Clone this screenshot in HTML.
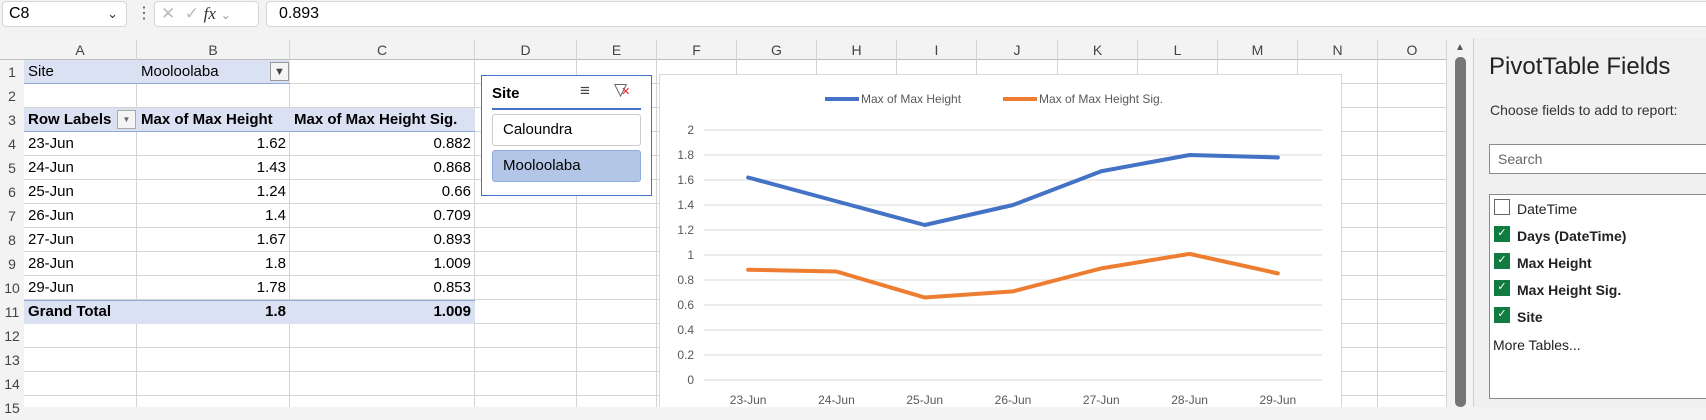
<!DOCTYPE html>
<html><head><meta charset="utf-8">
<style>
*{box-sizing:border-box;margin:0;padding:0}
body{width:1706px;height:407px;overflow:hidden;background:#f3f3f3;font-family:"Liberation Sans",sans-serif;position:relative;color:#000}
.a{position:absolute}
.box{position:absolute;background:#fff;border:1px solid #d6d6d6;border-radius:4px}
.hdr{position:absolute;top:40px;height:20px;font-size:14px;color:#444;text-align:center;line-height:20px;border-right:1px solid #d4d4d4}
.rh{position:absolute;left:0;width:24px;font-size:14px;color:#444;text-align:center;line-height:24px;height:24px}
.cell{position:absolute;height:24px;line-height:24px;font-size:15px;white-space:nowrap;overflow:hidden}
.r{text-align:right;padding-right:4px}
.b{font-weight:bold}
.fi{position:absolute;left:1500px;font-size:14px;color:#222}
.cb{position:absolute;left:1494px;width:16px;height:16px;background:#107c41;color:#fff;font-size:11px;text-align:center;line-height:15px}
</style></head><body>
<!-- formula bar -->
<div class="a" style="left:0;top:0;width:1706px;height:38px;background:#f3f3f3"></div>
<div class="box" style="left:2px;top:1px;width:125px;height:26px;font-size:16px;line-height:24px;padding-left:6px">C8<span class="a" style="right:8px;top:0;font-size:13px;color:#333">&#8964;</span></div>
<div class="a" style="left:136px;top:3px;font-size:16px;color:#555">&#8942;</div>
<div class="box" style="left:154px;top:1px;width:105px;height:26px;font-size:17px;line-height:24px;color:#bbb;padding-left:6px">&#10005;&nbsp; &#10003; <i style="color:#333;font-family:'Liberation Serif',serif">fx</i> <span style="font-size:12px;color:#999">&#8964;</span></div>
<div class="box" style="left:266px;top:1px;width:1450px;height:26px;font-size:16px;line-height:24px;padding-left:12px">0.893</div>

<!-- sheet -->
<div class="a" style="left:24px;top:60px;width:1423px;height:347px;background:#fff;
background-image:repeating-linear-gradient(to bottom,transparent 0 23px,#d4d4d4 23px 24px)"></div>
<div class="a" style="left:0;top:40px;width:1447px;height:20px;background:#f3f3f3;border-bottom:1px solid #bdbdbd"></div>
<div id="cols"></div>
<div id="rows"></div>

<!-- pivot table -->
<div class="a" style="left:24px;top:60px;width:266px;height:24px;background:#d9e1f2;border-bottom:1px solid #8ea9db"></div>
<div class="cell" style="left:28px;top:60px">Site</div>
<div class="cell" style="left:141px;top:60px">Mooloolaba</div>
<div class="a" style="left:270px;top:62px;width:19px;height:19px;border:1px solid #999;background:#f4f4f4;font-size:11px;text-align:center;line-height:18px;color:#444">&#9660;</div>
<div class="a" style="left:24px;top:108px;width:451px;height:24px;background:#d9e1f2;border-bottom:1px solid #8ea9db"></div>
<div class="cell b" style="left:28px;top:108px">Row Labels</div>
<div class="a" style="left:117px;top:110px;width:19px;height:19px;border:1px solid #aaa;background:#f4f4f4;font-size:8px;text-align:center;line-height:18px;color:#666">&#9660;</div>
<div class="cell b" style="left:141px;top:108px">Max of Max Height</div>
<div class="cell b" style="left:294px;top:108px">Max of Max Height Sig.</div>
<div class="a" style="left:24px;top:300px;width:451px;height:24px;background:#d9e1f2;border-top:1px solid #8ea9db"></div>
<div id="tbl"></div>

<!-- slicer -->
<div class="a" style="left:481px;top:75px;width:171px;height:121px;background:#fff;border:1px solid #4472c4">
 <div class="a b" style="left:10px;top:9px;font-size:15px">Site</div>
 <div class="a" style="left:98px;top:5px;font-size:17px;color:#444">&#8801;</div>
 <div class="a" style="left:132px;top:4px;font-size:17px;color:#555">&#9661;<span style="color:#e23;font-size:11px;margin-left:-6px">&#10005;</span></div>
 <div class="a" style="left:10px;top:32px;width:149px;height:2px;background:#4472c4"></div>
 <div class="a" style="left:10px;top:38px;width:149px;height:32px;border:1px solid #ccc;border-radius:3px;font-size:15px;line-height:30px;padding-left:10px">Caloundra</div>
 <div class="a" style="left:10px;top:74px;width:149px;height:32px;border:1px solid #8faadc;background:#b4c6e7;border-radius:3px;font-size:15px;line-height:30px;padding-left:10px">Mooloolaba</div>
</div>

<!-- chart -->
<svg class="a" id="chart" style="left:659px;top:74px" width="683" height="333">
 <rect x="0.5" y="0.5" width="682" height="340" fill="#fff" stroke="#d9d9d9"/>
</svg>

<!-- scrollbar -->
<div class="a" style="left:1449px;top:38px;width:22px;height:369px;background:#f3f3f3"></div>
<div class="a" style="left:1455px;top:42px;font-size:10px;color:#555">&#9650;</div>
<div class="a" style="left:1455px;top:57px;width:11px;height:350px;background:#767676;border-radius:5px"></div>
<div class="a" style="left:1473px;top:38px;width:1px;height:369px;background:#d0d0d0"></div>

<!-- pivot fields panel -->
<div class="a" style="left:1474px;top:38px;width:232px;height:369px;background:#f0f0f0"></div>
<div class="a" style="left:1489px;top:53px;font-size:24px;color:#222">PivotTable Fields</div>
<div class="a" style="left:1490px;top:102px;font-size:14px;color:#333">Choose fields to add to report:</div>
<div class="a" style="left:1489px;top:144px;width:230px;height:30px;background:#fff;border:1px solid #8a8a8a;font-size:14px;color:#666;line-height:28px;padding-left:8px">Search</div>
<div class="a" style="left:1489px;top:194px;width:230px;height:205px;background:#fff;border:1px solid #8a8a8a"></div>
<div class="a" style="left:1494px;top:199px;width:16px;height:16px;border:1px solid #666;background:#fff"></div>
<div class="fi" style="left:1517px;top:201px">DateTime</div>
<div class="cb" style="top:226px">&#10003;</div>
<div class="fi b" style="left:1517px;top:228px">Days (DateTime)</div>
<div class="cb" style="top:253px">&#10003;</div>
<div class="fi b" style="left:1517px;top:255px">Max Height</div>
<div class="cb" style="top:280px">&#10003;</div>
<div class="fi b" style="left:1517px;top:282px">Max Height Sig.</div>
<div class="cb" style="top:307px">&#10003;</div>
<div class="fi b" style="left:1517px;top:309px">Site</div>
<div class="fi" style="left:1493px;top:337px">More Tables...</div>

<script>
const categories=["23-Jun","24-Jun","25-Jun","26-Jun","27-Jun","28-Jun","29-Jun"];
const maxHeight=[1.62,1.43,1.24,1.4,1.67,1.8,1.78];
const maxHeightSig=[0.882,0.868,0.66,0.709,0.893,1.009,0.853];
const yTicks=[0,0.2,0.4,0.6,0.8,1,1.2,1.4,1.6,1.8,2];
const seriesNames=["Max of Max Height","Max of Max Height Sig."];

// sheet columns
const colNames=["A","B","C","D","E","F","G","H","I","J","K","L","M","N","O"];
const colEdges=[24,137,290,475,577,657,737,817,897,977,1058,1138,1218,1298,1378,1447];
const cols=document.getElementById('cols');
colNames.forEach((c,i)=>{
 const d=document.createElement('div');d.className='hdr';
 
 
 d.style.left=colEdges[i]+'px';d.style.width=(colEdges[i+1]-colEdges[i])+'px';d.textContent=c;cols.appendChild(d);
 const l=document.createElement('div');l.className='a';
 l.style.cssText=`left:${colEdges[i+1]-1}px;top:60px;width:1px;height:347px;background:#d4d4d4`;cols.appendChild(l);
});
const rows=document.getElementById('rows');
for(let r=1;r<=15;r++){
 const d=document.createElement('div');d.className='rh';
 
 
 d.style.top=(60+(r-1)*24)+'px';d.textContent=r;rows.appendChild(d);
}
// table body
const tbl=document.getElementById('tbl');
function cell(txt,l,w,t,cls,name){
 const d=document.createElement('div');d.className='cell '+cls;
 
 
 d.style.left=l+'px';d.style.width=w+'px';d.style.top=t+'px';d.textContent=txt;tbl.appendChild(d);
}
categories.forEach((c,i)=>{
 const t=132+i*24;
 cell(c,28,100,t,'','row-label-'+c.toLowerCase());
 cell(String(maxHeight[i]),137,153,t,'r','max-height-'+c.toLowerCase());
 cell(String(maxHeightSig[i]),290,185,t,'r','max-height-sig-'+c.toLowerCase());
});
cell('Grand Total',28,105,300,'b','grand-total-label');
cell(String(Math.max(...maxHeight)),137,153,300,'r b','grand-total-max-height');
cell(String(Math.max(...maxHeightSig)),290,185,300,'r b','grand-total-max-height-sig');

// chart
const svg=document.getElementById('chart');const NS='http://www.w3.org/2000/svg';
const X0=45,X1=663,Y0=306,Y1=56,yMax=2;
const x=i=>X0+(X1-X0)/categories.length*(i+0.5);
const y=v=>Y0-(Y0-Y1)*v/yMax;
function el(tag,attrs,txt){const e=document.createElementNS(NS,tag);for(const k in attrs)e.setAttribute(k,attrs[k]);if(txt!==undefined)e.textContent=txt;svg.appendChild(e);return e;}
yTicks.forEach(v=>{
 const g=el('line',{x1:X0,x2:X1,y1:y(v),y2:y(v),stroke:'#d9d9d9','stroke-width':1});
 
 
 const t=el('text',{x:35,y:y(v)+4,'text-anchor':'end','font-size':12,fill:'#595959','font-family':'Liberation Sans'},String(v));
 
 
});
categories.forEach((c,i)=>{
 const t=el('text',{x:x(i),y:330,'text-anchor':'middle','font-size':12,fill:'#595959','font-family':'Liberation Sans'},c);
 
 
});
const colors=['#4472c4','#ed7d31'];
[maxHeight,maxHeightSig].forEach((s,k)=>{
 const p=el('polyline',{points:s.map((v,i)=>x(i)+','+y(v)).join(' '),fill:'none',stroke:colors[k],'stroke-width':4,'stroke-linejoin':'round','stroke-linecap':'round'});
 
 
});
const legX=[166,344];
seriesNames.forEach((n,k)=>{
 const l=el('line',{x1:legX[k],x2:legX[k]+34,y1:25,y2:25,stroke:colors[k],'stroke-width':4});
 
 
 const t=el('text',{x:legX[k]+36,y:29,'font-size':12,fill:'#595959','font-family':'Liberation Sans'},n);
 
 
});
</script>
</body></html>
